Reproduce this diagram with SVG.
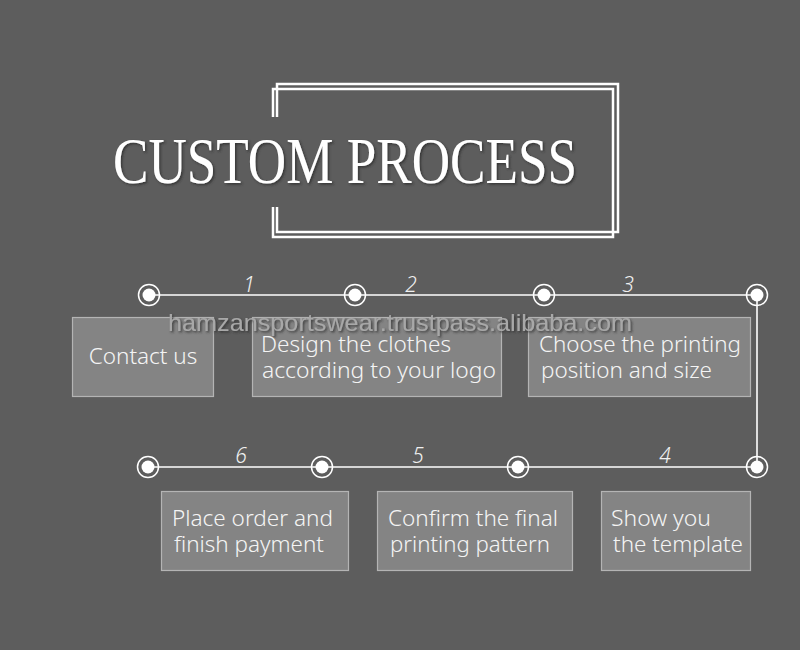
<svg xmlns="http://www.w3.org/2000/svg" width="800" height="650" viewBox="0 0 800 650">
<defs>
<style>
.bg{fill:#5d5d5d}
.frame{fill:none;stroke:#ffffff;stroke-width:2.5}
.line{stroke:#ffffff;stroke-width:1.6;fill:none}
.ring{fill:none;stroke:#ffffff;stroke-width:1.5}
.dot{fill:#ffffff}
.box{fill:#848484;stroke:#b4b4b4;stroke-width:1.2}
.lbl{font-family:"Noto Sans","Open Sans",sans-serif;font-size:22.5px;fill:#f4f4f4;font-weight:300}
.num{font-family:"Noto Sans","Open Sans",sans-serif;font-size:21px;fill:#f0f0f0;font-style:italic;font-weight:300;text-anchor:middle}
.title{font-family:"Liberation Serif","DejaVu Serif",serif;font-size:66px;fill:#ffffff}
.wm{font-family:"Liberation Sans",Arial,sans-serif;font-size:24px;fill:#a8a8a8}
</style>
<filter id="sh" x="-5%" y="-20%" width="110%" height="140%">
<feDropShadow dx="1.5" dy="1.5" stdDeviation="1" flood-color="#2a2a2a" flood-opacity="0.8"/>
</filter>
</defs>
<rect class="bg" x="0" y="0" width="800" height="650"/>
<g id="title">
<path class="frame" d="M277,117 V84 H618 V232 H277 V207"/>
<path class="frame" d="M273,117 V89 H613 V237 H273 V207"/>
<text class="title" x="113" y="183" textLength="464" lengthAdjust="spacingAndGlyphs" filter="url(#sh)">CUSTOM PROCESS</text>
</g>
<g id="connectors">
<line class="line" x1="149" y1="295" x2="757" y2="295"/>
<line class="line" x1="757" y1="295" x2="757" y2="467"/>
<line class="line" x1="148" y1="467" x2="757" y2="467"/>
<g>
<circle class="ring" cx="149" cy="295" r="10.5"/><circle class="dot" cx="149" cy="295" r="6.5"/>
<circle class="ring" cx="355" cy="295" r="10.5"/><circle class="dot" cx="355" cy="295" r="6.5"/>
<circle class="ring" cx="544" cy="295" r="10.5"/><circle class="dot" cx="544" cy="295" r="6.5"/>
<circle class="ring" cx="757" cy="295" r="10.5"/><circle class="dot" cx="757" cy="295" r="6.5"/>
<circle class="ring" cx="148" cy="467" r="10.5"/><circle class="dot" cx="148" cy="467" r="6.5"/>
<circle class="ring" cx="322" cy="467" r="10.5"/><circle class="dot" cx="322" cy="467" r="6.5"/>
<circle class="ring" cx="518" cy="467" r="10.5"/><circle class="dot" cx="518" cy="467" r="6.5"/>
<circle class="ring" cx="757" cy="467" r="10.5"/><circle class="dot" cx="757" cy="467" r="6.5"/>
</g>
<text class="num" x="249" y="292">1</text>
<text class="num" x="411" y="292">2</text>
<text class="num" x="628" y="292">3</text>
<text class="num" x="665" y="463">4</text>
<text class="num" x="418" y="463">5</text>
<text class="num" x="241" y="463">6</text>
</g>
<g id="step1">
<rect class="box" x="72.5" y="317.5" width="141" height="79"/>
<text class="lbl" x="143" y="364" text-anchor="middle">Contact us</text>
</g>
<g id="step2">
<rect class="box" x="252.5" y="317.5" width="249" height="79"/>
<text class="lbl" x="261" y="352" textLength="190" lengthAdjust="spacingAndGlyphs">Design the clothes</text>
<text class="lbl" x="262" y="378" textLength="234" lengthAdjust="spacingAndGlyphs">according to your logo</text>
</g>
<g id="step3">
<rect class="box" x="528.5" y="317.5" width="222" height="79"/>
<text class="lbl" x="539" y="352" textLength="202" lengthAdjust="spacingAndGlyphs">Choose the printing</text>
<text class="lbl" x="541" y="378" textLength="171" lengthAdjust="spacingAndGlyphs">position and size</text>
</g>
<g id="step4">
<rect class="box" x="601.5" y="491.5" width="149" height="79"/>
<text class="lbl" x="611" y="526" textLength="100" lengthAdjust="spacingAndGlyphs">Show you</text>
<text class="lbl" x="613" y="552" textLength="130" lengthAdjust="spacingAndGlyphs">the template</text>
</g>
<g id="step5">
<rect class="box" x="377.5" y="491.5" width="195" height="79"/>
<text class="lbl" x="388" y="526" textLength="170" lengthAdjust="spacingAndGlyphs">Confirm the final</text>
<text class="lbl" x="390" y="552" textLength="160" lengthAdjust="spacingAndGlyphs">printing pattern</text>
</g>
<g id="step6">
<rect class="box" x="161.5" y="491.5" width="187" height="79"/>
<text class="lbl" x="172" y="526" textLength="161" lengthAdjust="spacingAndGlyphs">Place order and</text>
<text class="lbl" x="174" y="552" textLength="150" lengthAdjust="spacingAndGlyphs">finish payment</text>
</g>
<text class="wm" x="168" y="331" textLength="464" lengthAdjust="spacingAndGlyphs" filter="url(#sh)">hamzansportswear.trustpass.alibaba.com</text>
</svg>
